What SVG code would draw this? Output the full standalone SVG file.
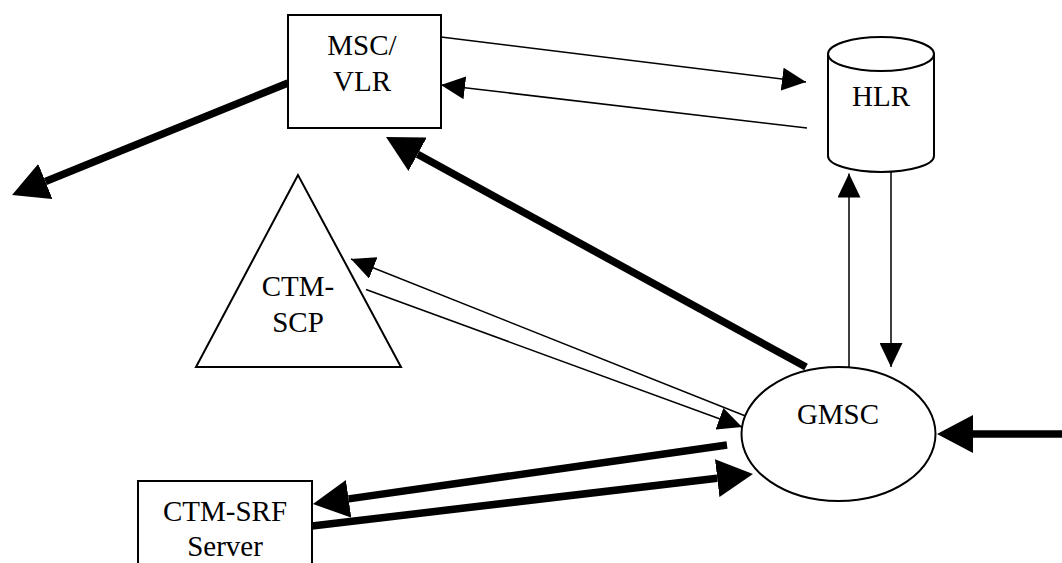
<svg xmlns="http://www.w3.org/2000/svg" width="1062" height="563" viewBox="0 0 1062 563">
<style>
.shape{fill:#fff;stroke:#000;stroke-width:2}
.lbl{font-family:"Liberation Serif","Times New Roman","DejaVu Serif",serif;font-size:29px;fill:#000;text-anchor:middle}
.thin{stroke:#000;stroke-width:1.5;fill:none;marker-end:url(#ah)}
.thick{stroke:#000;stroke-width:7.5;fill:none;marker-end:url(#AH)}
</style>
<defs>
<marker id="ah" markerUnits="userSpaceOnUse" markerWidth="24" markerHeight="23" viewBox="0 0 24 23" refX="24" refY="11.5" orient="auto">
<path d="M0,0 L24,11.5 L0,23 z" fill="#000"/>
</marker>
<marker id="AH" markerUnits="userSpaceOnUse" markerWidth="36" markerHeight="38" viewBox="0 0 36 38" refX="0" refY="19" orient="auto">
<path d="M0,0 L36,19 L0,38 z" fill="#000"/>
</marker>
</defs>
<rect width="1062" height="563" fill="#fff"/>
<g id="connectors">
<line class="thin" x1="441" y1="37" x2="806" y2="82"/>
<line class="thin" x1="807" y1="128" x2="441" y2="85"/>
<line class="thick" x1="288" y1="83" x2="45.4" y2="181.5"/>
<line class="thick" x1="806" y1="367" x2="417.6" y2="154.3"/>
<line class="thin" x1="753" y1="419" x2="351" y2="259"/>
<line class="thin" x1="366" y1="289.5" x2="742" y2="427"/>
<line class="thin" x1="849" y1="367" x2="849" y2="173.5"/>
<line class="thin" x1="891" y1="172" x2="891" y2="367"/>
<line class="thick" x1="1062" y1="434" x2="973" y2="434"/>
<line class="thick" x1="727" y1="445" x2="348.6" y2="498.9"/>
<line class="thick" x1="312" y1="526" x2="717.2" y2="478.2"/>
</g>
<g id="msc-vlr">
<rect class="shape" x="288" y="15" width="153" height="113"/>
<text class="lbl" x="362" y="55">MSC/</text>
<text class="lbl" x="362" y="91">VLR</text>
</g>
<g id="hlr">
<path class="shape" d="M828,54 L828,156 A53,16 0 0 0 934,156 L934,54 A53,17 0 0 0 828,54 Z"/>
<path class="shape" d="M828,54 A53,17 0 0 0 934,54" fill="none"/>
<text class="lbl" x="881" y="106">HLR</text>
</g>
<g id="ctm-scp">
<polygon class="shape" points="298,175 196,367 401,367"/>
<text class="lbl" x="298" y="296">CTM-</text>
<text class="lbl" x="298" y="332">SCP</text>
</g>
<g id="gmsc">
<ellipse class="shape" cx="838.5" cy="434" rx="97" ry="67"/>
<text class="lbl" x="838" y="424">GMSC</text>
</g>
<g id="ctm-srf">
<rect class="shape" x="138" y="481" width="174" height="100"/>
<text class="lbl" x="225" y="521">CTM-SRF</text>
<text class="lbl" x="225" y="556">Server</text>
</g>
</svg>
